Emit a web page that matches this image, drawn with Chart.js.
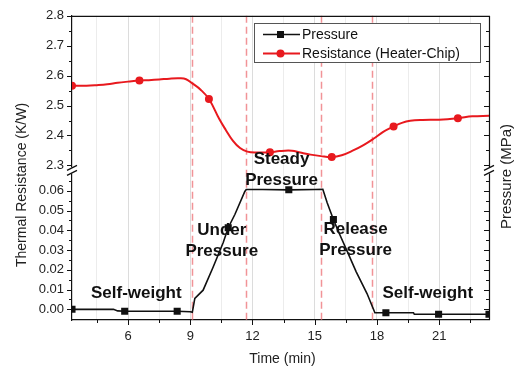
<!DOCTYPE html>
<html>
<head>
<meta charset="utf-8">
<title>Thermal resistance and pressure vs time</title>
<script src="https://cdn.jsdelivr.net/npm/chart.js@4.4.1/dist/chart.umd.min.js"></script>
<style>
  html, body { margin: 0; padding: 0; background: #fff; }
  #wrap { width: 522px; height: 371px; }
</style>
</head>
<body>
<div id="wrap"><canvas id="chart" width="522" height="371"></canvas></div>
<script>
// heater-chip thermal resistance (K/W) against time (min)
var resTime = [3.3, 4.0, 4.5, 5.0, 5.5, 6.0, 6.55, 7.0, 7.5, 8.0, 8.5, 8.8, 9.1, 9.5, 9.9, 10.4, 10.7, 11.05, 11.4, 11.75,
               12.2, 12.84, 13.3, 13.9, 14.3, 14.8, 15.3, 15.82, 16.3, 16.85, 17.35, 17.83, 18.3, 18.8, 19.2, 19.6, 20.2, 21.0, 21.9, 22.6, 23.4];
var resistance = [2.566, 2.566, 2.568, 2.571, 2.576, 2.580, 2.584, 2.585, 2.587, 2.590, 2.591, 2.588, 2.574, 2.553, 2.522, 2.455, 2.420, 2.383, 2.358, 2.346,
                  2.343, 2.344, 2.348, 2.349, 2.343, 2.336, 2.331, 2.328, 2.334, 2.350, 2.368, 2.389, 2.412, 2.430, 2.442, 2.449, 2.452, 2.453, 2.458, 2.464, 2.466];
var resMarks = [0, 6, 14, 21, 27, 33, 38];

// applied pressure (MPa) against time (min)
var presTime = [3.3, 4.5, 5.3, 5.5, 5.84, 7.0, 8.37, 9.0, 9.1, 9.22, 9.62, 10.1, 10.59, 10.83, 11.15, 11.63, 11.7, 12.5, 13.75, 15.0,
                15.39, 15.6, 15.9, 16.2, 16.55, 17.0, 17.52, 17.9, 18.43, 19.76, 19.8, 20.97, 23.4];
var pressure = [0, 0, 0, -0.0008, -0.001, -0.001, -0.001, -0.0012, -0.0015, 0.0055, 0.0097, 0.0213, 0.0338, 0.0413, 0.048, 0.0597, 0.0607, 0.0607, 0.0605, 0.0607,
                0.0608, 0.054, 0.0455, 0.038, 0.0297, 0.019, 0.008, -0.0017, -0.0017, -0.0017, -0.0025, -0.0025, -0.0025];
var presMarks = [0, 4, 6, 13, 18, 22, 28, 31, 32];

// tick labels
var timeTicks = [6, 9, 12, 15, 18, 21];
var resTicks = [2.3, 2.4, 2.5, 2.6, 2.7, 2.8];
var presTicks = [0, 0.01, 0.02, 0.03, 0.04, 0.05, 0.06];

// phase boundaries (min)
var phaseBounds = [9.08, 11.67, 15.3, 17.76];

// phase captions, placed in time / pressure units
var notes = [
  { lines: ['Self-weight'], t: 6.40, p: 0.0082 },
  { lines: ['Under', 'Pressure'], t: 10.52, p: 0.0347 },
  { lines: ['Steady', 'Pressure'], t: 13.40, p: 0.0706 },
  { lines: ['Release', 'Pressure'], t: 16.97, p: 0.0353 },
  { lines: ['Self-weight'], t: 20.45, p: 0.0082 }
];

var FONT = "'Liberation Sans', Arial, sans-serif";
var RED = '#e8191e';

function toXY(xs, ys) {
  return xs.map(function (x, i) { return { x: x, y: ys[i] }; });
}

function minorMajor(ctx, sc, step, lo, hi, draw) {
  for (var k = Math.ceil(lo / step - 1e-6); k * step <= hi + 1e-9; k++) {
    draw(sc.getPixelForValue(k * step), k % 2 === 0);
  }
}

var decor = {
  id: 'decor',
  beforeDatasetsDraw: function (chart) {
    var ctx = chart.ctx, a = chart.chartArea, x = chart.scales.x;
    ctx.save();
    ctx.strokeStyle = 'rgba(238,120,125,0.8)';
    ctx.lineWidth = 1.5;
    ctx.setLineDash([7, 4]);
    phaseBounds.forEach(function (t) {
      var px = Math.round(x.getPixelForValue(t)) + 0.5;
      ctx.beginPath();
      ctx.moveTo(px, a.top);
      ctx.lineTo(px, a.bottom);
      ctx.stroke();
    });
    ctx.restore();
  },
  afterDatasetsDraw: function (chart) {
    var ctx = chart.ctx, x = chart.scales.x, yP = chart.scales.yP;
    ctx.save();
    ctx.fillStyle = '#111';
    ctx.font = 'bold 17px ' + FONT;
    ctx.textAlign = 'center';
    ctx.textBaseline = 'middle';
    notes.forEach(function (n) {
      var cx = x.getPixelForValue(n.t);
      var cy = yP.getPixelForValue(n.p) - (n.lines.length - 1) * 10.25;
      n.lines.forEach(function (s, i) { ctx.fillText(s, cx, cy + i * 20.5); });
    });
    ctx.restore();
  },
  afterDraw: function (chart) {
    var ctx = chart.ctx, a = chart.chartArea, s = chart.scales;
    var L = a.left, R = a.right;
    ctx.save();
    ctx.strokeStyle = '#111';
    ctx.lineWidth = 1.2;

    // frame: top and right edges
    ctx.beginPath();
    ctx.moveTo(L, a.top + 0.5); ctx.lineTo(R, a.top + 0.5);
    ctx.moveTo(R + 0.5, a.top); ctx.lineTo(R + 0.5, a.bottom);
    ctx.stroke();

    // tick marks: outward on the left and bottom, inward on the right
    ctx.lineWidth = 1;
    ctx.beginPath();
    var yTick = function (py, major) {
      var len = major ? 5 : 3;
      py = Math.round(py) + 0.5;
      ctx.moveTo(L - len, py); ctx.lineTo(L, py);
      ctx.moveTo(R - len, py); ctx.lineTo(R, py);
    };
    minorMajor(ctx, s.yR, 0.05, 2.3, 2.8, yTick);
    minorMajor(ctx, s.yP, 0.005, 0, 0.065, yTick);
    minorMajor(ctx, s.x, 1.5, 4.5, 22.5, function (px, major) {
      px = Math.round(px) + 0.5;
      ctx.moveTo(px, a.bottom); ctx.lineTo(px, a.bottom + (major ? 5 : 3));
    });
    ctx.stroke();

    // axis break between the two panels
    var b = s.yR.bottom;
    [L, R].forEach(function (ax) {
      ctx.fillStyle = '#fff';
      ctx.fillRect(ax - 2, b - 1, 4, 6);
      ctx.beginPath();
      ctx.moveTo(ax - 5, b + 2); ctx.lineTo(ax + 5, b - 3);
      ctx.moveTo(ax - 5, b + 7); ctx.lineTo(ax + 5, b + 2);
      ctx.lineWidth = 1.3;
      ctx.stroke();
    });

    // axis titles
    ctx.fillStyle = '#222';
    ctx.font = '14px ' + FONT;
    ctx.textAlign = 'center';
    ctx.textBaseline = 'middle';
    ctx.fillText('Time (min)', (L + R) / 2 + 2, 359);
    ctx.save();
    ctx.translate(22, 185);
    ctx.rotate(-Math.PI / 2);
    ctx.fillText('Thermal Resistance (K/W)', 0, 0);
    ctx.restore();
    ctx.save();
    ctx.font = '15px ' + FONT;
    ctx.translate(507, 176.5);
    ctx.rotate(-Math.PI / 2);
    ctx.fillText('Pressure (MPa)', 0, 0);
    ctx.restore();

    // legend
    var lx = 254.5, ly = 23.5, lw = 226, lh = 39;
    ctx.fillStyle = '#fff';
    ctx.fillRect(lx, ly, lw, lh);
    ctx.strokeStyle = '#555';
    ctx.lineWidth = 1;
    ctx.strokeRect(lx, ly, lw, lh);
    var items = [
      { label: 'Pressure', color: '#111', rect: true, y: 34.5 },
      { label: 'Resistance (Heater-Chip)', color: RED, rect: false, y: 53.5 }
    ];
    ctx.textAlign = 'left';
    items.forEach(function (it) {
      ctx.strokeStyle = it.color;
      ctx.fillStyle = it.color;
      ctx.lineWidth = it.rect ? 1.5 : 2;
      ctx.beginPath();
      ctx.moveTo(263, it.y); ctx.lineTo(300, it.y);
      ctx.stroke();
      if (it.rect) {
        ctx.fillRect(277, it.y - 3.5, 7, 7);
      } else {
        ctx.beginPath(); ctx.arc(280.5, it.y, 4, 0, Math.PI * 2); ctx.fill();
      }
      ctx.fillStyle = '#111';
      ctx.font = '14px ' + FONT;
      ctx.fillText(it.label, 302, it.y + 0.5);
    });
    ctx.restore();
  }
};

Chart.defaults.font.family = FONT;

new Chart(document.getElementById('chart'), {
  type: 'line',
  data: {
    datasets: [
      {
        label: 'Pressure',
        data: toXY(presTime, pressure),
        yAxisID: 'yP',
        borderColor: '#111',
        backgroundColor: '#111',
        borderWidth: 1.6,
        tension: 0,
        pointStyle: 'rect',
        pointRadius: function (c) { return presMarks.indexOf(c.dataIndex) >= 0 ? 5 : 0; },
        pointBorderWidth: 0
      },
      {
        label: 'Resistance (Heater-Chip)',
        data: toXY(resTime, resistance),
        yAxisID: 'yR',
        borderColor: RED,
        backgroundColor: RED,
        borderWidth: 2,
        tension: 0.4,
        pointStyle: 'circle',
        pointRadius: function (c) { return resMarks.indexOf(c.dataIndex) >= 0 ? 4 : 0; },
        pointBorderWidth: 0
      }
    ]
  },
  options: {
    responsive: false,
    devicePixelRatio: 1,
    animation: false,
    layout: { padding: { left: 0, right: 33, top: 15, bottom: 0 } },
    plugins: { legend: { display: false }, tooltip: { enabled: false } },
    scales: {
      x: {
        type: 'linear',
        min: 3.3,
        max: 23.4,
        afterBuildTicks: function (sc) {
          var t = [];
          for (var v = 4.5; v <= 22.5; v += 1.5) t.push({ value: v });
          sc.ticks = t;
        },
        afterFit: function (sc) { sc.height = 51; },
        ticks: {
          autoSkip: false,
          maxRotation: 0,
          padding: 9,
          color: '#222',
          font: { size: 13 },
          callback: function (v) { return timeTicks.indexOf(v) >= 0 ? String(v) : ''; }
        },
        grid: {
          drawTicks: false,
          color: function (c) {
            var v = c.tick ? c.tick.value : 0;
            return timeTicks.indexOf(v) >= 0 ? '#dcdcdc' : '#ececec';
          },
          lineWidth: 1
        },
        border: { display: true, color: '#111', width: 1.2 }
      },
      yP: {
        type: 'linear',
        position: 'left',
        stack: 'split',
        stackWeight: 152,
        min: -0.0054,
        max: 0.07135,
        afterBuildTicks: function (sc) {
          sc.ticks = presTicks.map(function (v) { return { value: v }; });
        },
        afterFit: function (sc) { sc.width = 72; },
        ticks: {
          autoSkip: false,
          padding: 8,
          color: '#222',
          font: { size: 13 },
          callback: function (v) { return Number(v).toFixed(2); }
        },
        grid: { display: false, drawTicks: false },
        border: { display: true, color: '#111', width: 1.2 }
      },
      yR: {
        type: 'linear',
        position: 'left',
        stack: 'split',
        stackWeight: 153,
        min: 2.29,
        max: 2.8,
        afterBuildTicks: function (sc) {
          sc.ticks = resTicks.map(function (v) { return { value: v }; });
        },
        afterFit: function (sc) { sc.width = 72; },
        ticks: {
          autoSkip: false,
          padding: 8,
          color: '#222',
          font: { size: 13 },
          callback: function (v) { return Number(v).toFixed(1); }
        },
        grid: { display: false, drawTicks: false },
        border: { display: true, color: '#111', width: 1.2 }
      }
    }
  },
  plugins: [decor]
});
</script>
</body>
</html>
